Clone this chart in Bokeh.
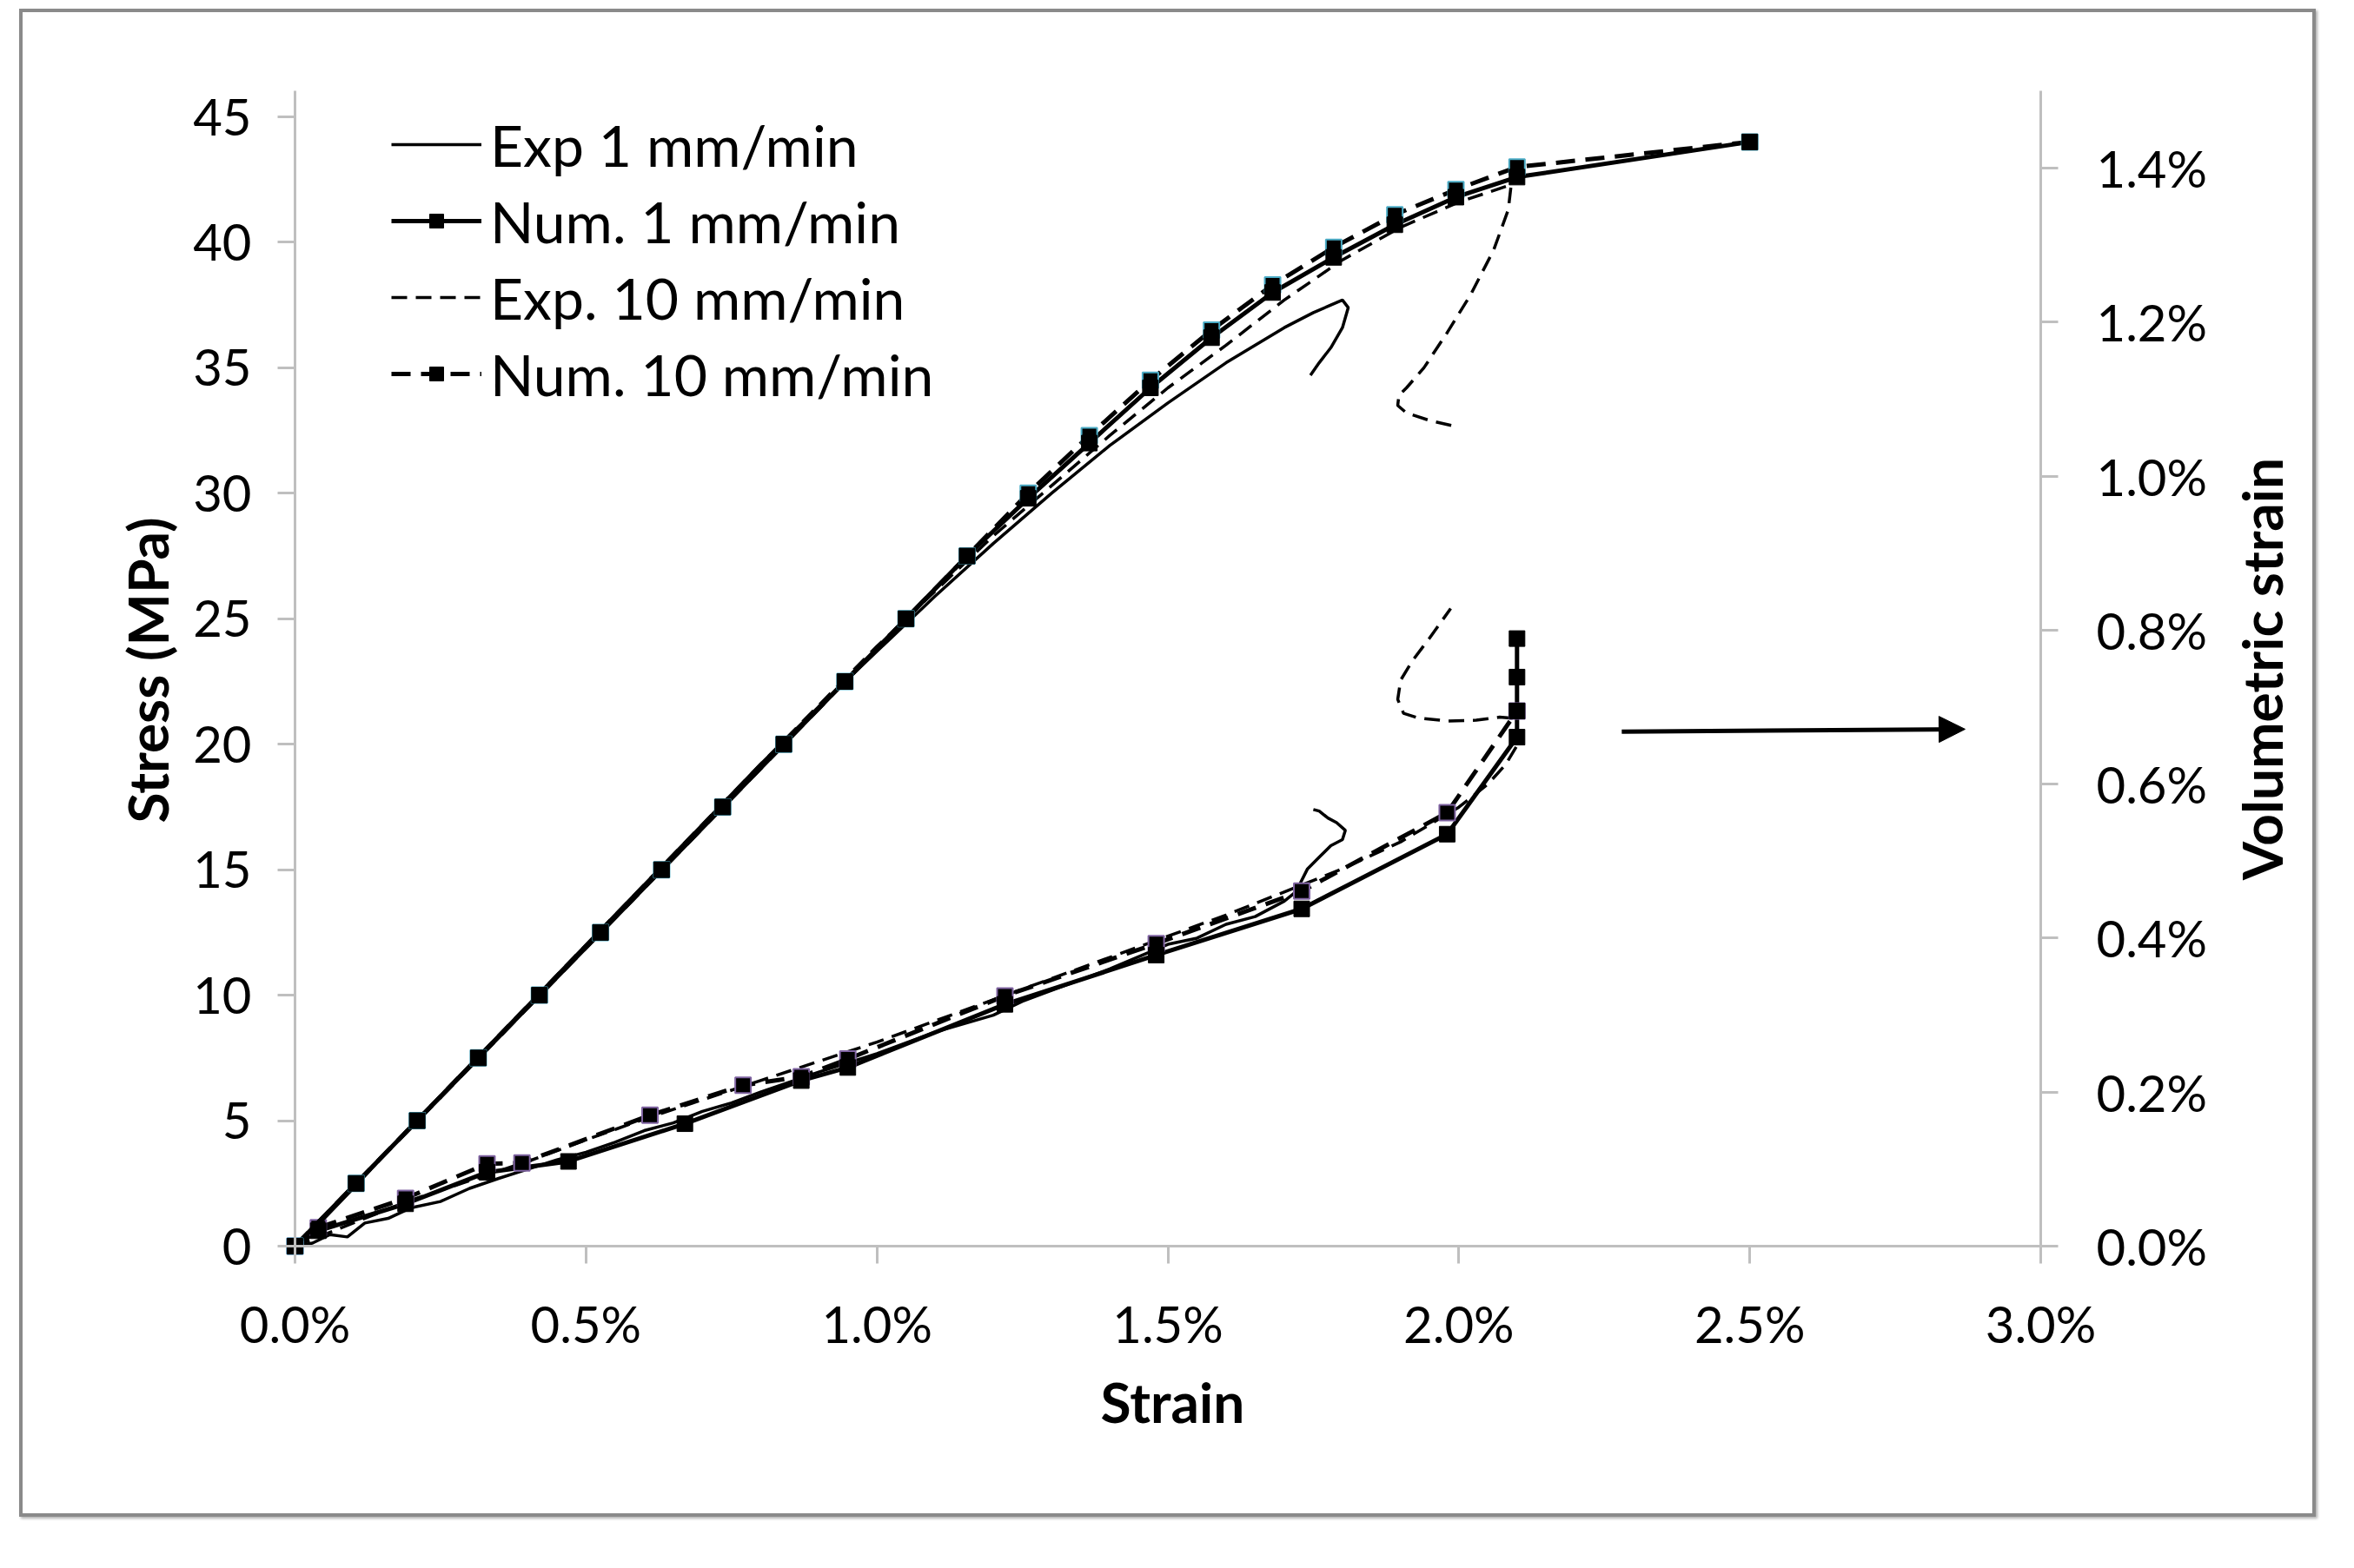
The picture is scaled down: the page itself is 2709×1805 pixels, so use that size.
import math
from bokeh.plotting import figure
from bokeh.models import (Range1d, LinearAxis, FixedTicker, NumeralTickFormatter,
                          Legend, LegendItem, Arrow, NormalHead, Label, Grid)
from bokeh.embed import file_html
from bokeh.resources import INLINE

# ---------------- data (strain in %, stress in MPa, volumetric strain in %) ----------------
# Stress-strain curves
num_strain = [0, 0.105, 0.21, 0.315, 0.42, 0.525, 0.63, 0.735, 0.84, 0.945, 1.05,
              1.155, 1.26, 1.365, 1.47, 1.575, 1.68, 1.785, 1.89, 1.995, 2.10, 2.50]
num1_stress = [0, 2.5, 5.0, 7.5, 10.0, 12.5, 15.0, 17.5, 20.0, 22.5, 25.0,
               27.5, 29.8, 32.0, 34.2, 36.2, 38.0, 39.4, 40.7, 41.8, 42.6, 44.0]
num10_stress = [0, 2.5, 5.0, 7.5, 10.0, 12.5, 15.0, 17.5, 20.0, 22.5, 25.0,
                27.5, 30.0, 32.3, 34.5, 36.5, 38.3, 39.8, 41.1, 42.1, 43.0, 44.0]

exp1_strain = [0, 0.05, 0.1, 0.2, 0.3, 0.4, 0.5, 0.6, 0.7, 0.8, 0.9, 1.0, 1.1, 1.2, 1.3,
               1.4, 1.5, 1.6, 1.7, 1.75, 1.78, 1.80, 1.81, 1.80, 1.78, 1.76, 1.745]
exp1_stress = [0, 1.1, 2.3, 4.8, 7.2, 9.6, 12.0, 14.4, 16.8, 19.2, 21.5, 23.7, 25.9, 28.0, 30.0,
               31.9, 33.6, 35.2, 36.6, 37.2, 37.5, 37.7, 37.4, 36.6, 35.8, 35.2, 34.7]

exp10_strain = [0, 0.1, 0.2, 0.4, 0.6, 0.8, 1.0, 1.2, 1.4, 1.5, 1.6, 1.7, 1.8, 1.9, 2.0, 2.09,
                2.085, 2.06, 2.02, 1.98, 1.94, 1.91, 1.897, 1.895, 1.91, 1.95, 1.988]
exp10_stress = [0, 2.4, 4.8, 9.6, 14.4, 19.2, 23.9, 28.3, 32.3, 34.2, 35.9, 37.7, 39.3, 40.6, 41.6, 42.3,
                41.3, 39.7, 37.9, 36.4, 35.0, 34.2, 33.9, 33.5, 33.2, 32.9, 32.7]

# Volumetric strain curves (right axis)
num1v_strain = [0, 0.04, 0.19, 0.33, 0.47, 0.67, 0.87, 0.95, 1.22, 1.48, 1.73, 1.98, 2.10, 2.10, 2.10, 2.10]
num1v_vol = [0, 0.020, 0.055, 0.096, 0.110, 0.159, 0.215, 0.232, 0.314, 0.378, 0.438, 0.535, 0.661, 0.695, 0.739, 0.789]

num10v_strain = [0, 0.04, 0.19, 0.33, 0.39, 0.61, 0.77, 0.87, 0.95, 1.22, 1.48, 1.73, 1.98, 2.10]
num10v_vol = [0, 0.024, 0.062, 0.107, 0.108, 0.170, 0.209, 0.220, 0.243, 0.325, 0.393, 0.461, 0.563, 0.695]

exp1v_strain = [0, 0.03, 0.06, 0.09, 0.12, 0.16, 0.2, 0.25, 0.3, 0.35, 0.4, 0.45, 0.5, 0.55, 0.6,
                0.65, 0.7, 0.75, 0.8, 0.9, 1.0, 1.1, 1.2, 1.25, 1.3, 1.4, 1.5, 1.55, 1.6, 1.65,
                1.7, 1.72, 1.74, 1.76, 1.78, 1.80, 1.805, 1.79, 1.775, 1.76, 1.75]
exp1v_vol = [0, 0.004, 0.015, 0.012, 0.030, 0.036, 0.050, 0.058, 0.075, 0.088, 0.100, 0.112, 0.122,
             0.135, 0.150, 0.160, 0.175, 0.186, 0.200, 0.226, 0.250, 0.278, 0.300, 0.318, 0.332,
             0.360, 0.392, 0.400, 0.418, 0.428, 0.448, 0.460, 0.490, 0.505, 0.520, 0.528, 0.540,
             0.550, 0.556, 0.565, 0.567]

exp10v_strain = [0, 0.1, 0.2, 0.3, 0.4, 0.5, 0.6, 0.7, 0.8, 0.9, 1.0, 1.2, 1.4, 1.6, 1.8, 1.9, 2.0,
                 2.05, 2.08, 2.10, 2.10, 2.07, 2.03, 1.98, 1.93, 1.905, 1.895, 1.90, 1.92, 1.95, 1.986]
exp10v_vol = [0, 0.030, 0.060, 0.085, 0.110, 0.138, 0.165, 0.190, 0.215, 0.240, 0.265, 0.320, 0.375,
              0.430, 0.490, 0.525, 0.570, 0.600, 0.625, 0.650, 0.685, 0.687, 0.683, 0.682, 0.686,
              0.692, 0.710, 0.735, 0.760, 0.790, 0.828]

x_ticks = [0.0, 0.5, 1.0, 1.5, 2.0, 2.5, 3.0]
y_ticks = [0, 5, 10, 15, 20, 25, 30, 35, 40, 45]
v_ticks = [0.0, 0.2, 0.4, 0.6, 0.8, 1.0, 1.2, 1.4]

arrow_x = [2.28, 2.87]
arrow_y = [20.5, 20.6]

labels = ["Exp 1 mm/min", "Num. 1 mm/min", "Exp. 10 mm/min", "Num. 10 mm/min"]
x_title = "Strain"
y_title = "Stress (MPa)"
vol_title = "Volumetric strain"


def pc(vals):
    return [v / 100.0 for v in vals]


FONT = "Lato"
AX_COLOR = "#bfbfbf"

# axis extents (data units)
X_MAX = 0.03          # 3.0 %
Y_MAX = 46.04         # MPa
V_MAX = 0.015         # 1.5 %

# the frame fills the whole canvas; axes are placed at fixed data locations
W, H = 2643, 1736
FX0, FX1 = 313, 2322      # frame-relative pixel positions of strain 0 and 3 %
FY0, FY45 = 1420, 120     # pixel rows (from top) of stress 0 and 45 MPa
xs = X_MAX / (FX1 - FX0)
ys = 45.0 / (FY0 - FY45)
vs = 0.014 / (FY0 - 179)
x_range = Range1d(-FX0 * xs, (W - FX0) * xs)
y_range = Range1d(-(H - FY0) * ys, FY0 * ys)
v_range = Range1d(-(H - FY0) * vs, FY0 * vs)

p = figure(width=W, height=H, output_backend="svg", toolbar_location=None,
           x_range=x_range, y_range=y_range, x_axis_location=None, y_axis_location=None,
           min_border=0)
p.margin = (10, 0, 0, 22)
p.styles = {"border": "4px solid #8a8a8a", "box-shadow": "2px 2px 3px #b0b0b0"}
p.background_fill_color = "white"
p.border_fill_color = "white"
p.outline_line_color = None
for r in list(p.center):
    if isinstance(r, Grid):
        r.visible = False
p.extra_y_ranges = {"vol": v_range}

xa = LinearAxis(ticker=FixedTicker(ticks=pc(x_ticks)), formatter=NumeralTickFormatter(format="0.0%"),
                fixed_location=0, bounds=(0, X_MAX))
ya = LinearAxis(ticker=FixedTicker(ticks=y_ticks), fixed_location=0, bounds=(0, Y_MAX))
ra = LinearAxis(y_range_name="vol", ticker=FixedTicker(ticks=pc(v_ticks)),
                formatter=NumeralTickFormatter(format="0.0%"), fixed_location=X_MAX, bounds=(0, V_MAX))
p.add_layout(xa, "below")
p.add_layout(ya, "left")
p.add_layout(ra, "right")

for ax in (xa, ya, ra):
    ax.axis_line_color = AX_COLOR
    ax.axis_line_width = 3
    ax.major_tick_line_color = AX_COLOR
    ax.major_tick_line_width = 3
    ax.major_tick_out = 20
    ax.major_tick_in = 0
    ax.minor_tick_line_color = None
    ax.major_label_text_font = FONT
    ax.major_label_text_font_size = "58px"
    ax.major_label_text_color = "black"

xa.major_label_standoff = 34
ya.major_label_standoff = 30
ra.major_label_standoff = 44

title_style = dict(text_font=FONT, text_font_style="bold", text_font_size="64px",
                   text_color="black", text_align="center", text_baseline="middle")
p.add_layout(Label(x=0.01508, y=-6.2, text=x_title, **title_style))
p.add_layout(Label(x=-0.00254, y=22.95, text=y_title, angle=math.pi / 2, **title_style))
p.add_layout(Label(x=0.03379, y=23.0, text=vol_title, angle=math.pi / 2, **title_style))

# ---------------- curves ----------------
LW_EXP = 3.5
LW_NUM = 5
DASH_EXP = "18 10"
DASH_NUM = "22 12"
MS = 18

# volumetric group (right axis)
p.line(pc(exp1v_strain), pc(exp1v_vol), y_range_name="vol", line_color="black", line_width=LW_EXP)
p.line(pc(exp10v_strain), pc(exp10v_vol), y_range_name="vol", line_color="black",
       line_width=LW_EXP, line_dash=DASH_EXP)
p.line(pc(num10v_strain), pc(num10v_vol), y_range_name="vol", line_color="black",
       line_width=LW_NUM, line_dash=DASH_NUM)
p.line(pc(num1v_strain), pc(num1v_vol), y_range_name="vol", line_color="black", line_width=LW_NUM)
p.scatter(pc(num10v_strain), pc(num10v_vol), y_range_name="vol", marker="square", size=MS,
          fill_color="black", line_color="#8064a2", line_width=2)
p.scatter(pc(num1v_strain), pc(num1v_vol), y_range_name="vol", marker="square", size=MS,
          fill_color="black", line_color="black", line_width=1)

# stress group (left axis)
r_exp1 = p.line(pc(exp1_strain), exp1_stress, line_color="black", line_width=LW_EXP)
r_exp10 = p.line(pc(exp10_strain), exp10_stress, line_color="black", line_width=LW_EXP,
                 line_dash=DASH_EXP)
r_num10 = p.line(pc(num_strain), num10_stress, line_color="black", line_width=LW_NUM,
                 line_dash=DASH_NUM)
r_num1 = p.line(pc(num_strain), num1_stress, line_color="black", line_width=LW_NUM)
r_num10m = p.scatter(pc(num_strain), num10_stress, marker="square", size=MS,
                     fill_color="black", line_color="#4bacc6", line_width=2)
r_num1m = p.scatter(pc(num_strain), num1_stress, marker="square", size=MS,
                    fill_color="black", line_color="black", line_width=1)

# arrow
p.add_layout(Arrow(end=NormalHead(size=30, fill_color="black", line_color="black"),
                   x_start=arrow_x[0] / 100, y_start=arrow_y[0],
                   x_end=arrow_x[1] / 100, y_end=arrow_y[1],
                   line_color="black", line_width=5))

# legend
legend = Legend(items=[
    LegendItem(label=labels[0], renderers=[r_exp1]),
    LegendItem(label=labels[1], renderers=[r_num1, r_num1m]),
    LegendItem(label=labels[2], renderers=[r_exp10]),
    LegendItem(label=labels[3], renderers=[r_num10, r_num1m]),
], location=(424, 1280))
legend.border_line_color = None
legend.background_fill_alpha = 0
legend.padding = 0
legend.margin = 0
legend.spacing = 8
legend.glyph_width = 104
legend.glyph_height = 40
legend.label_height = 80
legend.label_standoff = 10
legend.label_text_font = FONT
legend.label_text_font_size = "66px"
legend.label_text_color = "black"
p.add_layout(legend, "center")

with open("out.html", "w") as f:
    f.write(file_html(p, INLINE))
